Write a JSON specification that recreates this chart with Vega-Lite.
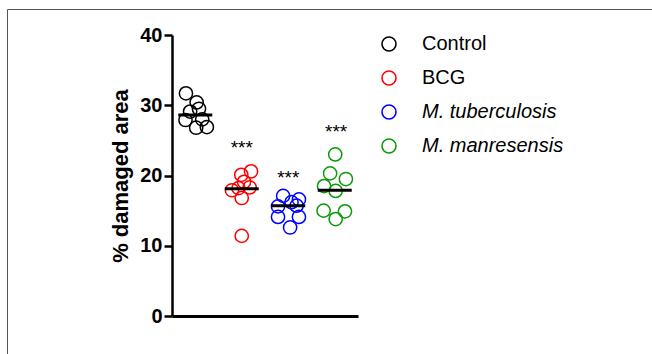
{
  "$schema": "https://vega.github.io/schema/vega-lite/v6.json",
  "autosize": "none",
  "width": 660,
  "height": 360,
  "padding": {"left": 7, "top": 9, "right": 0, "bottom": 0},
  "background": "white",
  "config": {
    "view": {"stroke": "#555555", "strokeWidth": 1},
    "font": "Liberation Sans",
    "axis": {"grid": false}
  },
  "datasets": {
    "points": [
      {"group": "Control", "x": 0.80, "value": 31.7},
      {"group": "Control", "x": 1.03, "value": 30.4},
      {"group": "Control", "x": 1.08, "value": 29.5},
      {"group": "Control", "x": 0.89, "value": 29.1},
      {"group": "Control", "x": 0.79, "value": 27.9},
      {"group": "Control", "x": 1.02, "value": 26.8},
      {"group": "Control", "x": 1.25, "value": 26.9},
      {"group": "Control", "x": 1.15, "value": 28.0},
      {"group": "BCG", "x": 2.20, "value": 20.6},
      {"group": "BCG", "x": 1.99, "value": 20.1},
      {"group": "BCG", "x": 2.05, "value": 19.1},
      {"group": "BCG", "x": 2.17, "value": 18.3},
      {"group": "BCG", "x": 1.79, "value": 17.9},
      {"group": "BCG", "x": 1.93, "value": 18.2},
      {"group": "BCG", "x": 2.00, "value": 16.8},
      {"group": "BCG", "x": 2.00, "value": 11.4},
      {"group": "M. tuberculosis", "x": 2.89, "value": 17.1},
      {"group": "M. tuberculosis", "x": 3.23, "value": 16.6},
      {"group": "M. tuberculosis", "x": 2.78, "value": 15.6},
      {"group": "M. tuberculosis", "x": 3.07, "value": 16.2},
      {"group": "M. tuberculosis", "x": 3.18, "value": 15.7},
      {"group": "M. tuberculosis", "x": 2.78, "value": 14.1},
      {"group": "M. tuberculosis", "x": 3.23, "value": 14.1},
      {"group": "M. tuberculosis", "x": 3.04, "value": 12.6},
      {"group": "M. manresensis", "x": 4.01, "value": 23.0},
      {"group": "M. manresensis", "x": 3.90, "value": 20.3},
      {"group": "M. manresensis", "x": 4.24, "value": 19.5},
      {"group": "M. manresensis", "x": 3.77, "value": 18.5},
      {"group": "M. manresensis", "x": 4.02, "value": 17.8},
      {"group": "M. manresensis", "x": 3.76, "value": 15.0},
      {"group": "M. manresensis", "x": 4.22, "value": 14.9},
      {"group": "M. manresensis", "x": 4.02, "value": 13.8}
    ],
    "lines": [
      {"group": "Control", "x": 1, "value": 28.6},
      {"group": "BCG", "x": 2, "value": 18.1},
      {"group": "M. tuberculosis", "x": 3, "value": 15.7},
      {"group": "M. manresensis", "x": 4, "value": 17.9}
    ],
    "sig": [
      {"group": "BCG", "x": 2.0, "value": 23.0, "label": "***"},
      {"group": "M. tuberculosis", "x": 3.0, "value": 18.85, "label": "***"},
      {"group": "M. manresensis", "x": 4.03, "value": 25.4, "label": "***"}
    ]
  },
  "layer": [
    {
      "data": {"name": "points"},
      "mark": {"type": "point", "shape": "circle", "filled": false, "size": 175, "strokeWidth": 1.5, "opacity": 1},
      "encoding": {
        "x": {
          "field": "x", "type": "quantitative",
          "scale": {"domain": [0.5, 4.5], "range": [165, 351], "nice": false, "zero": false},
          "axis": {"title": null, "labels": false, "ticks": false, "domain": true, "domainColor": "black", "domainWidth": 3, "offset": -53}
        },
        "y": {
          "field": "value", "type": "quantitative",
          "scale": {"domain": [0, 40], "range": [307, 26], "nice": false},
          "axis": {
            "title": "% damaged area",
            "titleFontSize": 22, "titleFontWeight": "bold", "titleColor": "black", "titlePadding": 7,
            "labelFontSize": 20, "labelFontWeight": "bold", "labelColor": "black", "labelPadding": 2,
            "values": [0, 10, 20, 30, 40],
            "tickColor": "black", "tickWidth": 2.5, "tickSize": 8,
            "domainColor": "black", "domainWidth": 2.5,
            "offset": -165
          }
        },
        "color": {
          "field": "group", "type": "nominal",
          "scale": {"domain": ["Control", "BCG", "M. tuberculosis", "M. manresensis"], "range": ["#000000", "#ff0000", "#0000ff", "#0a9a0a"]},
          "legend": {
            "title": null, "orient": "none", "legendX": 372, "legendY": 25, "padding": 0,
            "labelFontSize": 20, "labelFont": "Liberation Sans", "labelColor": "black",
            "labelFontStyle": {"expr": "indexof(['M. tuberculosis', 'M. manresensis'], datum.value) >= 0 ? 'italic' : 'normal'"},
            "symbolSize": 196, "symbolStrokeWidth": 1.6, "symbolType": "circle",
            "labelOffset": 23, "rowPadding": 12
          }
        }
      }
    },
    {
      "data": {"name": "lines"},
      "mark": {"type": "tick", "orient": "horizontal", "size": 34, "thickness": 3, "color": "black", "opacity": 1},
      "encoding": {
        "x": {"field": "x", "type": "quantitative"},
        "y": {"field": "value", "type": "quantitative"}
      }
    },
    {
      "data": {"name": "sig"},
      "mark": {"type": "text", "fontSize": 19, "color": "black", "baseline": "alphabetic", "align": "center", "font": "Liberation Sans"},
      "encoding": {
        "x": {"field": "x", "type": "quantitative"},
        "y": {"field": "value", "type": "quantitative"},
        "text": {"field": "label"}
      }
    }
  ]
}
